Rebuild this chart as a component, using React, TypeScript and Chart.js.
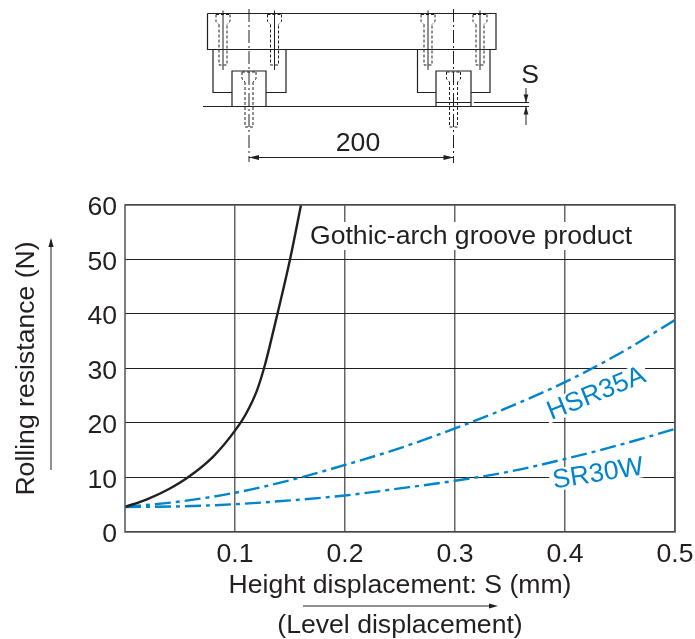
import React, { useEffect, useRef } from "react";
import { Chart, registerables } from "chart.js";

Chart.register(...registerables);

const yTickValues = [0, 10, 20, 30, 40, 50, 60];
const xTickValues = [0.1, 0.2, 0.3, 0.4, 0.5];
const gothicX = [0, 0.02, 0.04, 0.057, 0.08, 0.1, 0.11, 0.12, 0.127, 0.135, 0.15, 0.16];
const gothicY = [4.6, 6, 7.9, 10, 13.8, 18.6, 21.7, 26, 30.5, 37, 50, 60];
const hsrX = [0, 0.05, 0.1, 0.15, 0.2, 0.25, 0.3, 0.35, 0.4, 0.45, 0.5];
const hsrY = [4.6, 5.6, 7.2, 9.5, 12.3, 15.4, 19, 23, 27.5, 32.8, 38.9];
const srX = [0, 0.05, 0.1, 0.15, 0.2, 0.25, 0.3, 0.35, 0.4, 0.45, 0.5];
const srY = [4.6, 4.7, 5.1, 5.8, 6.7, 8, 9.4, 11.1, 13.4, 16, 18.9];
const gothicLabel = "Gothic-arch groove product";
const hsrLabel = "HSR35A";
const srLabel = "SR30W";
const xTitle = ["Height displacement: S (mm)", "(Level displacement)"];
const yTitle = "Rolling resistance (N)";
const dimensionLabel = "200";
const heightLabel = "S";

const INK = "#231f20";
const BLUE = "#0085cc";
const FONT = '"Liberation Sans", Arial, sans-serif';
const SIZE = 26.6;

const pairs = (xs: number[], ys: number[]) => xs.map((x, i) => ({ x, y: ys[i] }));

const line = (c: CanvasRenderingContext2D, pts: number[][], dash: number[] = [], w = 1.2, color = INK) => {
  c.save();
  c.strokeStyle = color;
  c.lineWidth = w;
  c.setLineDash(dash);
  c.beginPath();
  pts.forEach(([x, y], i) => (i ? c.lineTo(x, y) : c.moveTo(x, y)));
  c.stroke();
  c.restore();
};

const arrowHead = (c: CanvasRenderingContext2D, x: number, y: number, dx: number, dy: number, len = 10, half = 2.6) => {
  c.save();
  c.fillStyle = INK;
  c.beginPath();
  c.moveTo(x, y);
  c.lineTo(x - dx * len - dy * half, y - dy * len - dx * half);
  c.lineTo(x - dx * len + dy * half, y - dy * len + dx * half);
  c.closePath();
  c.fill();
  c.restore();
};

const text = (c: CanvasRenderingContext2D, s: string, x: number, y: number, size: number, color = INK) => {
  c.save();
  c.font = `${size}px ${FONT}`;
  c.fillStyle = color;
  c.textAlign = "center";
  c.textBaseline = "middle";
  c.fillText(s, x, y);
  c.restore();
};

const maskedLabel = (c: CanvasRenderingContext2D, s: string, x: number, y: number, deg: number, size: number) => {
  c.save();
  c.translate(x, y);
  c.rotate((deg * Math.PI) / 180);
  c.font = `${size}px ${FONT}`;
  const w = c.measureText(s).width;
  c.fillStyle = "#ffffff";
  c.fillRect(-w / 2 - 3, -size * 0.42, w + 6, size * 0.84);
  c.fillStyle = BLUE;
  c.textAlign = "center";
  c.textBaseline = "middle";
  c.fillText(s, 0, 1);
  c.restore();
};

const drawBolt = (c: CanvasRenderingContext2D, x: number, top: number, shankEnd: number, lineEnd: number) => {
  const d = [3, 2];
  line(c, [[x - 7, top], [x - 7, top + 7], [x - 4, top + 10]], d, 1);
  line(c, [[x + 7, top], [x + 7, top + 7], [x + 4, top + 10]], d, 1);
  line(c, [[x - 7, top], [x + 7, top]], d, 1);
  line(c, [[x - 4, top + 10], [x - 4, shankEnd], [x + 4, shankEnd], [x + 4, top + 10]], d, 1);
  if (lineEnd) line(c, [[x, top - 4], [x, lineEnd]], [], 1);
};

const schematic = {
  id: "schematic",
  afterDraw(chart: Chart) {
    const c = chart.ctx;
    const dashDot = [13, 3, 2, 3];
    c.save();
    // top plate
    line(c, [[207.5, 13.5], [496, 13.5], [496, 49.5], [207.5, 49.5], [207.5, 13.5]]);
    // sliders
    line(c, [[213, 49.5], [213, 92.5], [232, 92.5]]);
    line(c, [[286, 49.5], [286, 92.5], [266, 92.5]]);
    line(c, [[417.5, 49.5], [417.5, 92.5], [436, 92.5]]);
    line(c, [[490, 49.5], [490, 92.5], [471, 92.5]]);
    // rails
    line(c, [[232, 106.5], [232, 71], [266, 71], [266, 106.5]]);
    line(c, [[436, 106.5], [436, 71], [471, 71], [471, 106.5]]);
    line(c, [[436, 102.5], [471, 102.5]], [], 1);
    // base and displacement lines
    line(c, [[203, 106.5], [529, 106.5]]);
    line(c, [[474, 102.5], [529, 102.5]], [], 1);
    line(c, [[526, 88], [526, 102.5]], [], 1);
    arrowHead(c, 526, 102.5, 0, 1, 8, 2.4);
    line(c, [[526, 106.5], [526, 125]], [], 1);
    arrowHead(c, 526, 106.5, 0, -1, 8, 2.4);
    // bolts
    [223, 274.5, 428, 480].forEach((x) => drawBolt(c, x, 14.5, 65, 70));
    [249, 453.5].forEach((x) => drawBolt(c, x, 72, 127, 0));
    // centre lines
    line(c, [[249, 9], [249, 162]], dashDot, 1);
    line(c, [[453.5, 9], [453.5, 163]], dashDot, 1);
    // dimension
    line(c, [[249, 157.5], [453.5, 157.5]], [], 1);
    arrowHead(c, 249, 157.5, -1, 0);
    arrowHead(c, 453.5, 157.5, 1, 0);
    text(c, dimensionLabel, 358, 144, SIZE);
    text(c, heightLabel, 530, 76, SIZE);
    // direction arrows
    line(c, [[51, 470], [51, 240]], [], 1);
    arrowHead(c, 51, 238, 0, -1, 9, 2.6);
    line(c, [[303, 606], [490, 606]], [], 1);
    arrowHead(c, 498, 606, 1, 0, 9, 2.6);
    c.restore();
  },
};

const labels = {
  id: "labels",
  afterDatasetsDraw(chart: Chart) {
    const c = chart.ctx;
    const { left, right, top, bottom } = chart.chartArea;
    maskedLabel(c, hsrLabel, 596, 393, -22, SIZE);
    maskedLabel(c, srLabel, 598, 473, -9, SIZE);
    c.save();
    c.font = `${SIZE}px ${FONT}`;
    const w = c.measureText(gothicLabel).width;
    c.fillStyle = "#ffffff";
    c.fillRect(307, 222, w + 6, 28);
    c.restore();
    text(c, gothicLabel, 310 + w / 2, 237, SIZE);
    c.save();
    c.strokeStyle = "#555555";
    c.lineWidth = 1.5;
    c.strokeRect(left, top, right - left, bottom - top);
    c.restore();
  },
};

export default function App() {
  const ref = useRef<HTMLCanvasElement>(null);
  useEffect(() => {
    const chart = new Chart(ref.current!, {
      type: "scatter",
      data: {
        datasets: [
          { label: "Gothic-arch groove product", data: pairs(gothicX, gothicY), showLine: true, borderColor: INK, borderWidth: 2.4, pointRadius: 0, cubicInterpolationMode: "monotone" },
          { label: "HSR35A", data: pairs(hsrX, hsrY), showLine: true, borderColor: BLUE, borderWidth: 2.4, borderDash: [16, 5, 4, 5], pointRadius: 0, cubicInterpolationMode: "monotone" },
          { label: "SR30W", data: pairs(srX, srY), showLine: true, borderColor: BLUE, borderWidth: 2.4, borderDash: [16, 5, 4, 5], pointRadius: 0, cubicInterpolationMode: "monotone" },
        ],
      },
      options: {
        responsive: false,
        animation: false,
        layout: { padding: { left: 0, top: 205, right: 20, bottom: 0 } },
        plugins: { legend: { display: false }, tooltip: { enabled: false } },
        scales: {
          x: {
            type: "linear",
            min: 0,
            max: 0.5,
            afterFit: (s: any) => { s.height = 107; s.paddingRight = 0; s.paddingLeft = 0; },
            afterBuildTicks: (s: any) => { s.ticks = xTickValues.map((value) => ({ value })); },
            grid: { color: "#666666", lineWidth: 1.5, drawTicks: false },
            border: { display: false },
            ticks: { color: INK, font: { family: FONT, size: SIZE }, padding: 7, maxRotation: 0, autoSkip: false, callback: (v: any) => Number(v).toFixed(1) },
            title: { display: true, text: xTitle, color: INK, font: { family: FONT, size: SIZE, lineHeight: 1.5 }, padding: { top: 0, bottom: -7 } },
          },
          y: {
            type: "linear",
            min: 0,
            max: 60,
            afterFit: (s: any) => { s.width = 125; s.paddingTop = 0; s.paddingBottom = 0; },
            afterBuildTicks: (s: any) => { s.ticks = yTickValues.map((value) => ({ value })); },
            grid: { color: INK, lineWidth: 1.1, drawTicks: false },
            border: { display: false },
            ticks: { color: INK, font: { family: FONT, size: SIZE }, padding: 8, autoSkip: false, labelOffset: 3 },
            title: { display: true, text: yTitle, color: INK, font: { family: FONT, size: SIZE, lineHeight: 1.15 }, padding: { top: 11, bottom: 0 } },
          },
        },
      },
      plugins: [labels, schematic],
    } as any);
    return () => chart.destroy();
  }, []);
  return (
    <div style={{ position: "fixed", left: 0, top: 0, width: 695, height: 639, background: "#fff" }}>
      <canvas ref={ref} width={695} height={639} style={{ display: "block" }} />
    </div>
  );
}
